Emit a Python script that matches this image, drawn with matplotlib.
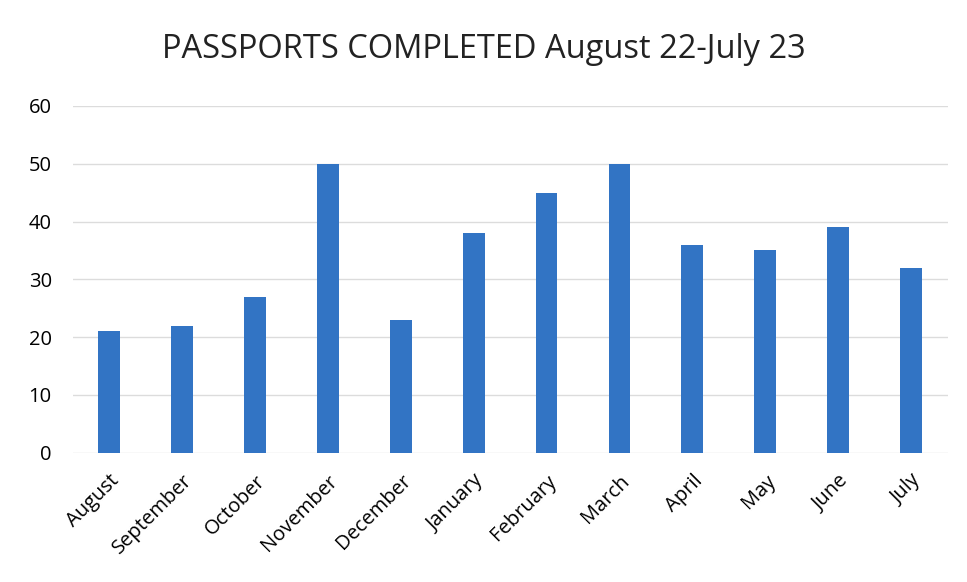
import matplotlib.pyplot as plt

months = ["August", "September", "October", "November", "December", "January",
          "February", "March", "April", "May", "June", "July"]
passports = [21, 22, 27, 50, 23, 38, 45, 50, 36, 35, 39, 32]
y_ticks = [0, 10, 20, 30, 40, 50, 60]

plt.rcParams['font.family'] = ['Open Sans', 'DejaVu Sans']

fig = plt.figure(figsize=(9.67, 5.82), dpi=100)
ax = fig.add_axes([0.075, 0.222, 0.905, 0.596])

x = range(len(months))
ax.bar(x, passports, width=0.3, color='#3274C4', zorder=3)

ax.set_xlim(-0.5, len(months) - 0.5)
ax.set_ylim(0, 60)
ax.set_yticks(y_ticks)
ax.set_xticks(list(x))
ax.set_xticklabels(months, rotation=45, ha='right', rotation_mode='anchor', fontsize=14.5)
ax.tick_params(axis='y', labelsize=14.5, length=0, pad=15)
ax.tick_params(axis='x', length=0, pad=13)

ax.grid(axis='y', color='#dcdcdc', linewidth=1, zorder=0)
for s in ax.spines.values():
    s.set_visible(False)

fig.text(0.5, 0.915, "PASSPORTS COMPLETED August 22-July 23",
         ha='center', va='center', fontsize=23.5, color='#222222')

fig.savefig('out.png', dpi=100)
